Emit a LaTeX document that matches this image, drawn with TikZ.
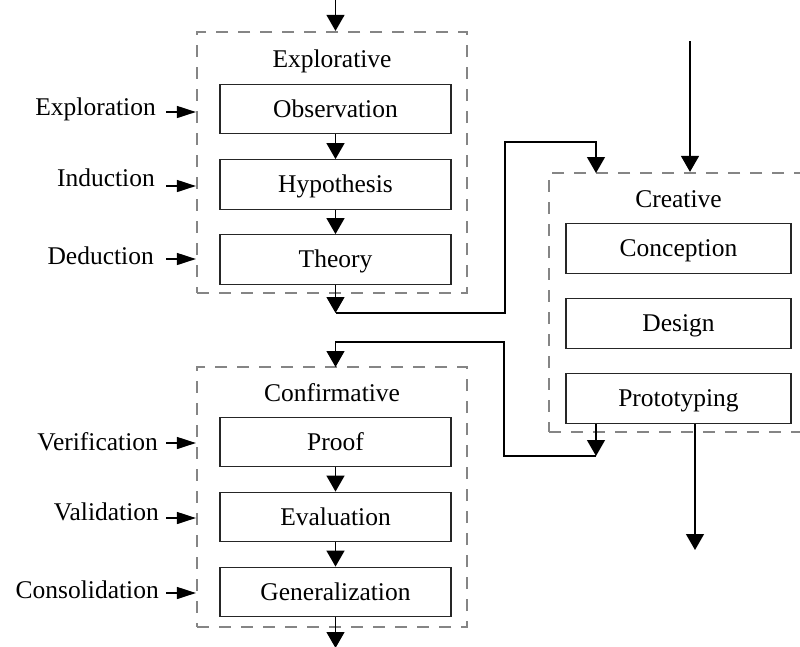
\documentclass[tikz,border=0pt]{standalone}
\usepackage{fontspec}
\setmainfont{Liberation Serif}
\usetikzlibrary{arrows.meta}
\begin{document}
\begin{tikzpicture}[x=1pt,y=-1pt,
  every node/.style={font=\fontsize{25.5}{30}\selectfont},
  stage/.style={draw=black!85, line width=1.3pt, minimum width=231pt,
    minimum height=49.5pt, inner sep=0pt, text height=18pt, text depth=2pt},
  cstage/.style={stage, minimum width=225pt},
  group/.style={draw=black!48, line width=2.2pt, dash pattern=on 12pt off 10pt,
    inner sep=0pt},
  flow/.style={draw=black, line width=1.3pt, -{Triangle[length=16pt,width=18pt]}},
  side/.style={draw=black, line width=1.3pt, -{Triangle[length=19pt,width=12pt]}},
  lab/.style={anchor=base east, inner sep=0pt},
  title/.style={anchor=base, inner sep=0pt}]
\useasboundingbox (0,0) rectangle (800,646);

% dashed groups
\node[group, minimum width=270pt, minimum height=261pt] (expl) at (332,162.5) {};
\node[group, minimum width=270pt, minimum height=260pt] (conf) at (332,497) {};
\node[group, minimum width=263pt, minimum height=259pt] (crea) at (680.5,302.5) {};

\node[title] (explt) at (332,67) {Explorative};
\node[title] (conft) at (332,401) {Confirmative};
\node[title] (creat) at (678.5,207) {Creative};

% explorative stages
\node[stage] (obs) at (335.5,109) {Observation};
\node[stage] (hyp) at (335.5,184.5) {Hypothesis};
\node[stage] (the) at (335.5,259.5) {Theory};

% confirmative stages
\node[stage] (proof) at (335.5,442) {Proof};
\node[stage] (eval) at (335.5,517) {Evaluation};
\node[stage] (gen) at (335.5,592) {Generalization};

% creative stages
\node[cstage] (conc) at (678.5,248.5) {Conception};
\node[cstage] (des) at (678.5,323.5) {Design};
\node[cstage] (proto) at (678.5,398.5) {Prototyping};

% side labels
\node[lab] (l1) at (156,115) {Exploration};
\node[lab] (l2) at (155,186) {Induction};
\node[lab] (l3) at (154,264) {Deduction};
\node[lab] (l4) at (158,450) {Verification};
\node[lab] (l5) at (159,520) {Validation};
\node[lab] (l6) at (159,598) {Consolidation};

\coordinate (a1) at (166,112);
\coordinate (a2) at (166,186);
\coordinate (a3) at (166,259);
\coordinate (a4) at (166,443);
\coordinate (a5) at (166,518);
\coordinate (a6) at (166,593);
\foreach \a/\g in {a1/expl,a2/expl,a3/expl,a4/conf,a5/conf,a6/conf}
  \draw[side] (\a) -- (\a -| \g.west);

% main flow
\coordinate (topin) at (335.5,0);
\draw[flow] (topin) -- (topin |- expl.north);
\draw[flow] (obs) -- (hyp);
\draw[flow] (hyp) -- (the);
\draw[flow] (proof) -- (eval);
\draw[flow] (eval) -- (gen);
\coordinate (botout) at (335.5,648);
\draw[flow] (gen) -- (botout);

% explorative to creative
\coordinate (j1) at (335.5,313);
\coordinate (cin1) at (596,173);
\draw[flow] (the) -- (j1);
\draw[flow] (j1) -| (505,142) -| (cin1);

% outside input to creative
\coordinate (cin2) at (690,41);
\draw[flow] (cin2) -- (cin2 |- crea.north);

% creative to confirmative
\coordinate (j2) at (596,456);
\coordinate (fin) at (335.5,367);
\draw[flow] (j2 |- proto.south) -- (j2);
\draw[flow] (j2) -| (504,342) -| (fin);

% creative output
\coordinate (pout) at (695,550);
\draw[flow] (pout |- proto.south) -- (pout);
\end{tikzpicture}
\end{document}
